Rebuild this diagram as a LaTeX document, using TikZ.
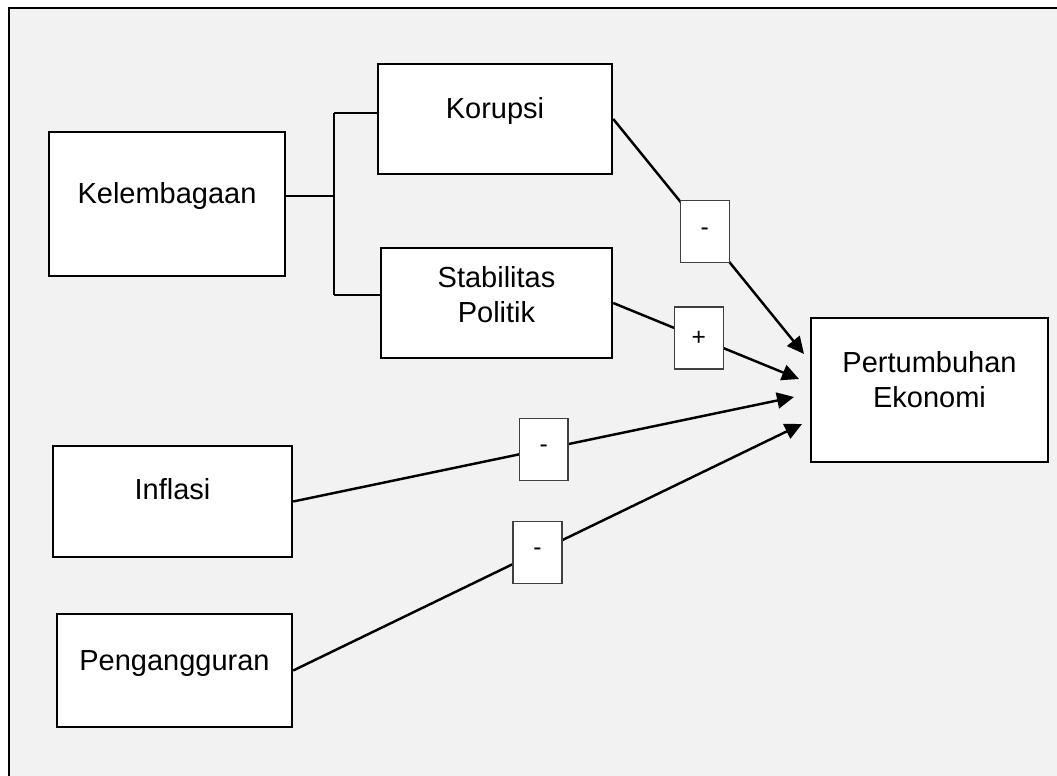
\documentclass[tikz,border=0pt]{standalone}
\usepackage{fontspec}
\setmainfont{Liberation Sans}
\usetikzlibrary{arrows.meta}
\definecolor{bggrey}{HTML}{F2F2F2}
\definecolor{signgrey}{HTML}{404040}

\begin{document}
\begin{tikzpicture}[x=0.02cm,y=-0.02cm,
    line/.style={line width=1.4pt},
    box/.style={draw,fill=white,line width=1.4pt,inner sep=0pt},
    txt/.style={font=\fontsize{16.5}{20}\selectfont,align=center,inner sep=0pt},
    onetxt/.style={txt,text height=11.8pt,text depth=3.5pt},
    sign/.style={draw=signgrey,fill=white,line width=0.7pt,inner sep=0pt,
      minimum width=0.98cm,minimum height=1.24cm,font=\fontsize{14}{16}\selectfont},
    arr/.style={line width=1.4pt,-{Triangle[length=0.34cm,width=0.32cm]}}]
    \useasboundingbox (0,0) rectangle (1057,776);
    \fill[bggrey] (9,8) rectangle (1057,776);
    \draw[line] (1057,8) -- (9,8) -- (9,776);

    \node[box,minimum width=4.72cm,minimum height=2.88cm] (kel)  at (167,204) {};
    \node[box,minimum width=4.68cm,minimum height=2.20cm] (kor)  at (495,119) {};
    \node[box,minimum width=4.62cm,minimum height=2.20cm] (stab) at (496.5,303) {};
    \node[box,minimum width=4.74cm,minimum height=2.88cm] (pert) at (929.5,390) {};
    \node[box,minimum width=4.78cm,minimum height=2.22cm] (inf)  at (172.5,501.5) {};
    \node[box,minimum width=4.70cm,minimum height=2.26cm] (peng) at (174.5,670.5) {};

    \node[onetxt] (kel-t)  at (167,196.5) {Kelembagaan};
    \node[onetxt] (kor-t)  at (495,111) {Korupsi};
    \node[txt]    (stab-t) at (496.5,294.5) {Stabilitas\\Politik};
    \node[txt]    (pert-t) at (929.5,380) {Pertumbuhan\\Ekonomi};
    \node[onetxt] (inf-t)  at (172.5,492.5) {Inflasi};
    \node[onetxt] (peng-t) at (174.5,663) {Pengangguran};

    \coordinate (jk) at (334,196); \coordinate (j1) at (334,113);
    \coordinate (j2) at (334,295);
    \draw[line] (jk -| kel.east) -- (jk);
    \draw[line] (j1) -- (j2);
    \draw[line] (j1) -- (j1 -| kor.west);
    \draw[line] (j2) -- (j2 -| stab.west);

    \coordinate (t1) at (804,354); \coordinate (t2) at (799,379);
    \coordinate (t3) at (794,397); \coordinate (t4) at (802,424);
    \draw[arr] (kor.east)  -- node[sign,pos=0.48] (s1) {-} (t1);
    \draw[arr] (stab.east) -- node[sign,pos=0.46] (s2) {+} (t2);
    \draw[arr] (inf.east)  -- node[sign,pos=0.5]  (s3) {-} (t3);
    \draw[arr] (peng.east) -- node[sign,pos=0.48] (s4) {-} (t4);
\end{tikzpicture}
\end{document}
